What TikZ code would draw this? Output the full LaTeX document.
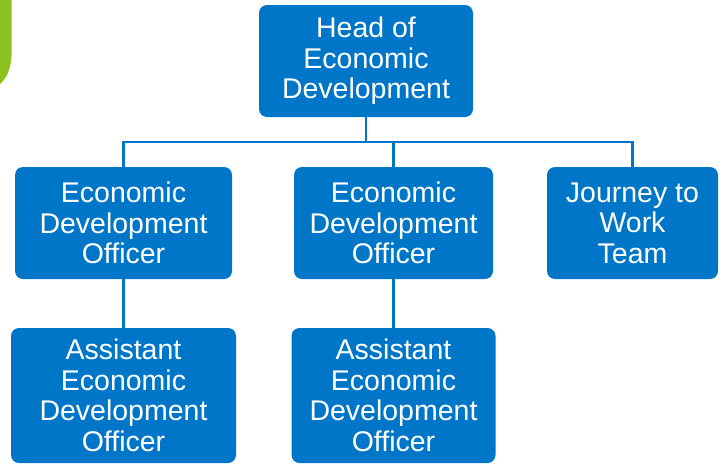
\documentclass[tikz,border=0pt]{standalone}
\usepackage{fontspec}
\setmainfont{Liberation Sans}
\definecolor{boxblue}{RGB}{0,118,200}
\definecolor{accentgreen}{RGB}{140,194,31}
\begin{document}
\begin{tikzpicture}[x=1pt,y=-1pt,
  orgbox/.style={draw=none,fill=boxblue,rounded corners=8pt,text=white,
    align=center,inner sep=0pt,font=\fontsize{28.5}{30.5}\selectfont},
  conn/.style={draw=boxblue,line width=2.3pt,line join=miter}]
\useasboundingbox (0,0) rectangle (724,464);
% green accent at top-left
\fill[accentgreen] (0,0) -- (11.7,0) -- (11.7,50)
  .. controls (11.7,68) and (7,78) .. (0,84) -- cycle;
% boxes
\node[orgbox,minimum width=214pt,minimum height=112pt] (head) at (366,61)
  {Head of\\Economic\\Development};
\node[orgbox,minimum width=217pt,minimum height=112pt] (edo1) at (123.5,223)
  {Economic\\Development\\Officer};
\node[orgbox,minimum width=199pt,minimum height=112pt] (edo2) at (393.5,223)
  {Economic\\Development\\Officer};
\node[orgbox,minimum width=171pt,minimum height=112pt] (journey) at (632.5,223)
  {Journey to\\Work\\Team};
\node[orgbox,minimum width=225pt,minimum height=135pt] (aedo1) at (123.5,395.5)
  {Assistant\\Economic\\Development\\Officer};
\node[orgbox,minimum width=204pt,minimum height=135pt] (aedo2) at (393.5,395.5)
  {Assistant\\Economic\\Development\\Officer};
% connectors
\coordinate (bus) at (366,142);
\draw[conn] (head.south) -- (head.south |- bus);
\draw[conn] (edo1.north) -- (edo1.north |- bus) -- (journey.north |- bus) -- (journey.north);
\draw[conn] (edo2.north |- bus) -- (edo2.north);
\draw[conn] (edo1.south) -- (aedo1.north);
\draw[conn] (edo2.south) -- (aedo2.north);
\end{tikzpicture}
\end{document}
